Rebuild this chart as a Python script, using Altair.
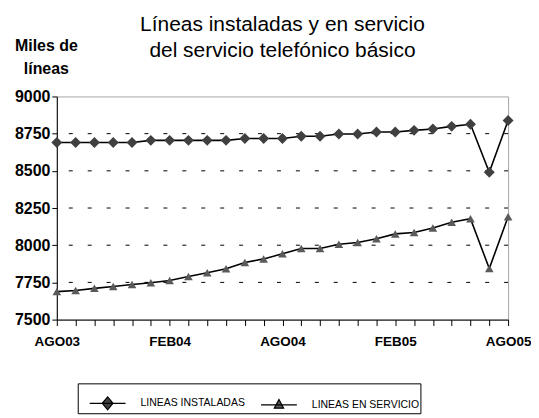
import altair as alt
import pandas as pd

meses = ["AGO03", "SEP03", "OCT03", "NOV03", "DIC03", "ENE04", "FEB04", "MAR04",
         "ABR04", "MAY04", "JUN04", "JUL04", "AGO04", "SEP04", "OCT04", "NOV04",
         "DIC04", "ENE05", "FEB05", "MAR05", "ABR05", "MAY05", "JUN05", "JUL05", "AGO05"]
instaladas = [8690, 8690, 8690, 8690, 8690, 8705, 8705, 8705, 8705, 8705, 8717, 8717, 8717,
              8732, 8732, 8748, 8748, 8761, 8761, 8772, 8781, 8799, 8813, 8490, 8838]
servicio = [7688, 7696, 7710, 7723, 7736, 7748, 7763, 7790, 7815, 7842, 7884, 7908, 7942,
            7978, 7978, 8007, 8018, 8043, 8076, 8085, 8116, 8154, 8178, 7843, 8192]
series = ["LINEAS INSTALADAS", "LINEAS EN SERVICIO"]
x_labels = ["AGO03", "FEB04", "AGO04", "FEB05", "AGO05"]
y_ticks = [7500, 7750, 8000, 8250, 8500, 8750, 9000]
grid_vals = [7750, 8000, 8250, 8500, 8750]

rows = []
for i, m in enumerate(meses):
    rows.append({"i": i, "mes": m, "serie": series[0], "valor": instaladas[i]})
    rows.append({"i": i, "mes": m, "serie": series[1], "valor": servicio[i]})
df = pd.DataFrame(rows)
grid_df = pd.DataFrame({"valor": grid_vals})

FONT = "Liberation Sans"
label_list = "[" + ",".join("'%s'" % s for s in x_labels) + "]"

x_axis = alt.Axis(values=list(range(len(meses))), labelAngle=0, labelOverlap=False,
                  ticks=True, domain=True,
                  labelExpr="datum.value %% 6 === 0 ? %s[datum.value / 6] : ''" % label_list,
                  domainColor="black", domainWidth=1, tickColor="black", tickSize=6, tickWidth=1,
                  labelFont=FONT, labelFontSize=13.5, labelFontWeight="bold",
                  labelColor="black", labelPadding=9, grid=False, labelFlush=False)
y_axis = alt.Axis(values=y_ticks, format="d", grid=False, ticks=True, domain=True,
                  domainColor="black", domainWidth=1, tickColor="black", tickSize=5, tickWidth=1,
                  labelFont=FONT, labelFontSize=16, labelFontWeight="bold",
                  labelColor="black", labelPadding=2,
                  title=["Miles de", "líneas"], titleAngle=0, titleAlign="center",
                  titleBaseline="alphabetic", titleX=-11, titleY=-46,
                  titleFont=FONT, titleFontSize=16, titleFontWeight="bold",
                  titleColor="black", titleLineHeight=23)

x_enc = alt.X("i:Q", title=None,
              scale=alt.Scale(domain=[0, len(meses) - 1], nice=False, zero=False), axis=x_axis)
y_enc = alt.Y("valor:Q", scale=alt.Scale(domain=[7500, 9000], nice=False, zero=False),
              axis=y_axis)

grid = alt.Chart(grid_df).mark_rule(color="black", strokeWidth=1, strokeDash=[4, 15]).encode(
    y=y_enc
)

lines = alt.Chart(df).mark_line(color="black", strokeWidth=1.6).encode(
    x=x_enc, y=y_enc, detail="serie:N"
)

points = alt.Chart(df).mark_point(filled=True, opacity=1, strokeWidth=0).encode(
    x=x_enc, y=y_enc,
    shape=alt.Shape("serie:N", scale=alt.Scale(domain=series, range=["diamond", "triangle-up"]), legend=None),
    fill=alt.Fill("serie:N", scale=alt.Scale(domain=series, range=["#404040", "#5a5a5a"]), legend=None),
    size=alt.Size("serie:N", scale=alt.Scale(domain=series, range=[120, 75]), legend=None),
)

path_dia = "M-1,0L1,0M0,-0.36L0.3,0L0,0.36L-0.3,0Z"
path_tri = "M-1,0L1,0M0,-0.3L0.26,0.18L-0.26,0.18Z"
leg_props = dict(
    orient="none", legendX=21, legendY=288, direction="horizontal", title=None,
    strokeColor="black", fillColor="white", padding=1, symbolOffset=10,
    labelOffset=14, columnPadding=5, labelFont=FONT,
    labelFontSize=10.5, labelColor="black", symbolSize=1296, symbolOpacity=1,
    symbolStrokeWidth=1.2,
)

legend_layer = alt.Chart(df).transform_filter("false").mark_point(
    filled=True, opacity=1, strokeWidth=1.2
).encode(
    x=x_enc, y=y_enc,
    shape=alt.Shape("serie:N", scale=alt.Scale(domain=series, range=[path_dia, path_tri]),
                    legend=alt.Legend(**leg_props)),
    fill=alt.Fill("serie:N", scale=alt.Scale(domain=series, range=["#404040", "#5a5a5a"]),
                  legend=alt.Legend(**leg_props)),
    stroke=alt.Stroke("serie:N", scale=alt.Scale(domain=series, range=["black", "black"]),
                      legend=alt.Legend(**leg_props)),
)

chart = alt.layer(grid, lines, points, legend_layer).resolve_scale(
    shape="independent", fill="independent", size="independent", stroke="independent"
).properties(
    width=453, height=224,
    padding={"left": 49, "top": 88, "right": 23, "bottom": 100},
    autosize=alt.AutoSizeParams(type="none"),
    title=alt.TitleParams(
        text=["Líneas instaladas y en servicio", "del servicio telefónico básico"],
        font=FONT, fontSize=21, fontWeight="normal", color="black",
        anchor="middle", lineHeight=26, offset=36, dy=59,
    ),
).configure_view(stroke="#a6a6a6", strokeWidth=1).configure_legend(
    strokeColor="black", fillColor="white", padding=1
)

chart.save("out.html", embed_options={"renderer": "svg", "actions": False})
